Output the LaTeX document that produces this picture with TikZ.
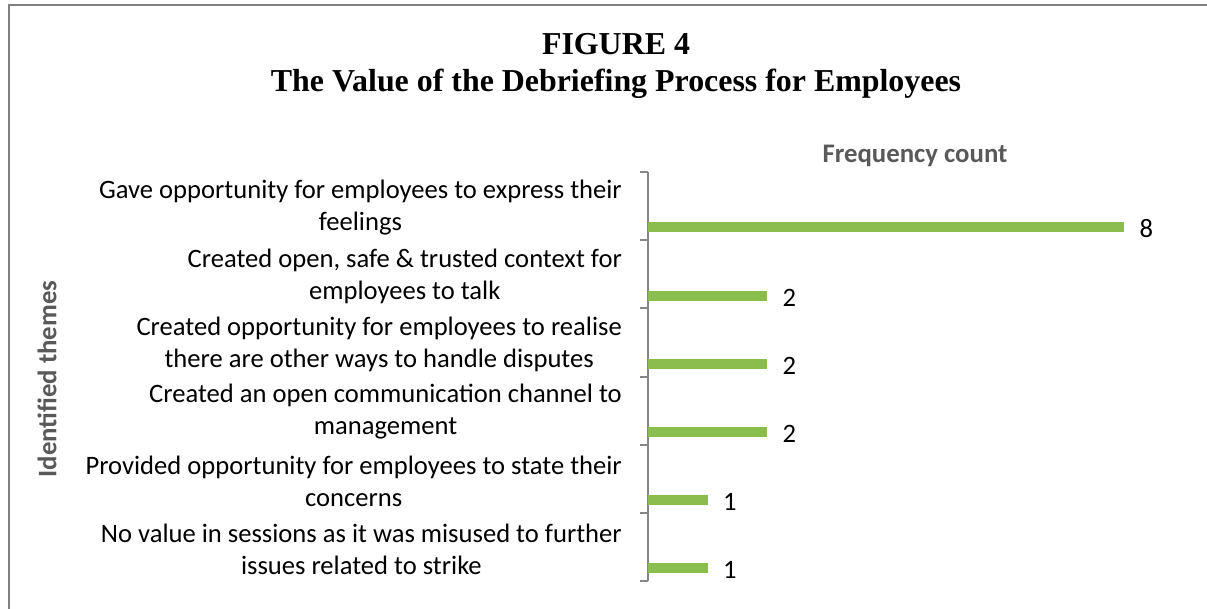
\documentclass[tikz,border=0pt]{standalone}
\usepackage{fontspec}
\setmainfont{Carlito}
\newfontfamily\titlefont{Liberation Serif}
\usetikzlibrary{positioning}
\definecolor{bargreen}{RGB}{139,189,78}
\definecolor{axisgray}{RGB}{134,134,134}
\definecolor{framegray}{RGB}{128,128,128}
\definecolor{labelgray}{RGB}{89,89,89}

\begin{document}
\begin{tikzpicture}[x=1pt, y=-1pt]
      \tikzstyle{theme} = [align=center, anchor=east, inner sep=0pt, font=\fontsize{26.6}{32}\selectfont]
      \tikzstyle{bar} = [rectangle, fill=bargreen, anchor=west, minimum height=10pt, inner sep=0pt]
      \tikzstyle{value} = [inner sep=0pt, yshift=-2pt, font=\fontsize{26.6}{32}\selectfont]
      \tikzstyle{axistitle} = [text=labelgray, font=\bfseries\fontsize{26.8}{30}\selectfont]
      \tikzstyle{heading} = [anchor=base, font=\titlefont\bfseries\fontsize{31.9}{37}\selectfont]
      \tikzstyle{axis} = [draw=axisgray, line width=2pt]

      \useasboundingbox (0,0) rectangle (1207,609);
      \draw [framegray, line width=2pt] (9,609) -- (9,5) -- (1207,5);

      \node (fig) [heading] at (616,55) {FIGURE 4};
      \node (title) [heading] at (616,92) {The Value of the Debriefing Process for Employees};

      \node (xtitle) [axistitle] at (915,156) {Frequency count};
      \node (ytitle) [axistitle, rotate=90] at (47,379) {Identified themes};

      \draw [axis] (648,172) -- (648,581);
      \draw [axis] (640,172) -- (648,172);
      \draw [axis] (640,240.2) -- (648,240.2);
      \draw [axis] (640,308.3) -- (648,308.3);
      \draw [axis] (640,376.5) -- (648,376.5);
      \draw [axis] (640,444.7) -- (648,444.7);
      \draw [axis] (640,512.8) -- (648,512.8);
      \draw [axis] (640,581) -- (648,581);

      \node (t1) [theme] at (622,208) {Gave opportunity for employees to express their\\feelings};
      \node (t2) [theme] at (622,276) {Created open, safe \& trusted context for\\employees to talk};
      \node (t3) [theme] at (622,344) {Created opportunity for employees to realise\\there are other ways to handle disputes};
      \node (t4) [theme] at (622,412) {Created an open communication channel to\\management};
      \node (t5) [theme] at (622,481) {Provided opportunity for employees to state their\\concerns};
      \node (t6) [theme] at (622,549) {No value in sessions as it was misused to further\\issues related to strike};

      \node (b1) [bar, minimum width=476pt] at (648,227) {};
      \node (b2) [bar, minimum width=119pt] at (648,296) {};
      \node (b3) [bar, minimum width=119pt] at (648,364) {};
      \node (b4) [bar, minimum width=119pt] at (648,432) {};
      \node (b5) [bar, minimum width=59.5pt] at (648,500) {};
      \node (b6) [bar, minimum width=59.5pt] at (648,568) {};

      \node (v1) [value, right=15pt of b1] {8};
      \node (v2) [value, right=15pt of b2] {2};
      \node (v3) [value, right=15pt of b3] {2};
      \node (v4) [value, right=15pt of b4] {2};
      \node (v5) [value, right=15pt of b5] {1};
      \node (v6) [value, right=15pt of b6] {1};
\end{tikzpicture}
\end{document}
